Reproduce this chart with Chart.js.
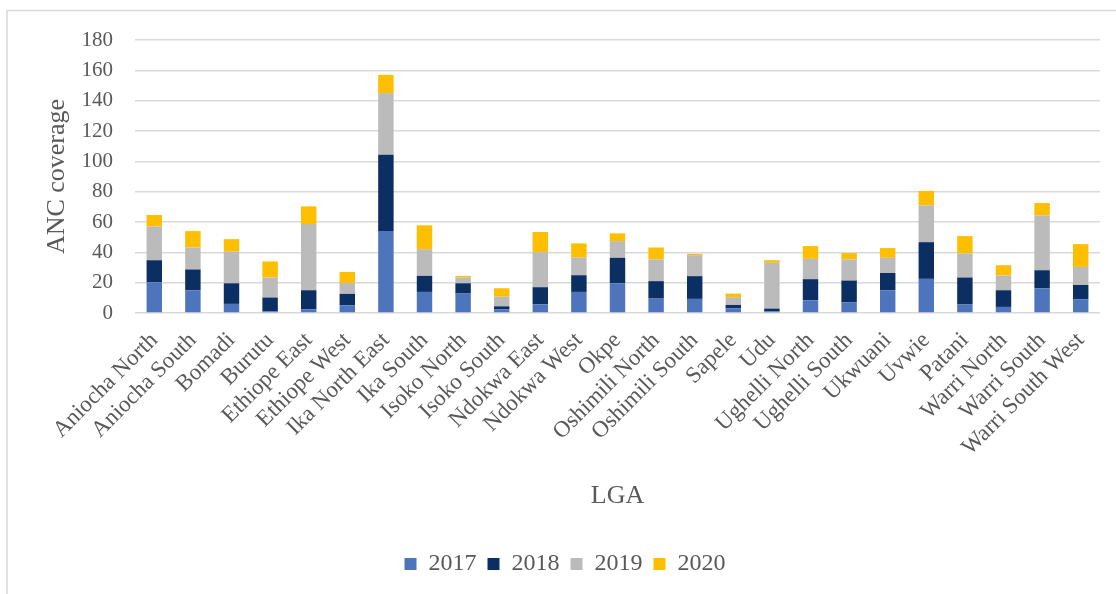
<!DOCTYPE html>
<html>
<head>
<meta charset="utf-8">
<title>ANC coverage by LGA</title>
<script src="https://cdn.jsdelivr.net/npm/chart.js@4/dist/chart.umd.min.js"></script>
<style>
    html, body { margin: 0; padding: 0; background: #fff; }
    #wrap { position: relative; width: 1116px; height: 594px; }
</style>
</head>
<body>
<div id="wrap"><canvas id="anc-chart" width="1116" height="594"></canvas></div>
<script>
var lgaNames = [
    'Aniocha North', 'Aniocha South', 'Bomadi', 'Burutu', 'Ethiope East',
    'Ethiope West', 'Ika North East', 'Ika South', 'Isoko North', 'Isoko South',
    'Ndokwa East', 'Ndokwa West', 'Okpe', 'Oshimili North', 'Oshimili South',
    'Sapele', 'Udu', 'Ughelli North', 'Ughelli South', 'Ukwuani',
    'Uvwie', 'Patani', 'Warri North', 'Warri South', 'Warri South West'
];

var cov2017 = [20.3, 15, 6, 1.1, 2.4, 5.1, 54, 13.9, 12.8, 2.4, 5.7, 13.9, 19.6, 9.5, 9.3, 3.1, 1.1, 8.4, 7.1, 15, 22.5, 5.6, 4, 16.3, 9.1];
var cov2018 = [14.5, 13.7, 13.6, 9.1, 12.6, 7.5, 50.3, 10.6, 6.8, 2, 11.3, 11, 16.8, 11.5, 15, 2.2, 1.8, 13.9, 14.3, 11.4, 24.2, 17.8, 11, 11.9, 9.4];
var cov2019 = [22.3, 14.5, 20.8, 13.2, 43.6, 7.2, 40.7, 17.6, 3.8, 6.4, 23.1, 11.7, 11, 14.3, 13.8, 5.1, 30.2, 13.4, 13.9, 10, 24.3, 15.9, 9.7, 36.2, 11.9];
var cov2020 = [7.5, 10.8, 8.3, 10.6, 11.7, 7.3, 12, 15.7, 1.1, 5.5, 13.3, 9.3, 5.1, 7.9, 0.9, 2.4, 1.7, 8.4, 4.2, 6.4, 9.5, 11.4, 6.8, 8.1, 15];

var yearLabels = ['2017', '2018', '2019', '2020'];
var yTicks = [0, 20, 40, 60, 80, 100, 120, 140, 160, 180];

var serif = "'Liberation Serif', 'Times New Roman', serif";
var textGrey = '#595959';
var lineGrey = '#d9d9d9';

// thin frame round the chart, as in the office export
var framePlugin = {
    id: 'frame',
    beforeDraw: function(chart) {
        var ctx = chart.ctx;
        ctx.save();
        ctx.strokeStyle = lineGrey;
        ctx.lineWidth = 1.5;
        ctx.beginPath();
        ctx.moveTo(7, chart.height);
        ctx.lineTo(7, 10.5);
        ctx.lineTo(chart.width, 10.5);
        ctx.stroke();
        ctx.restore();
    }
};

function makeSet(label, data, colour) {
    return {
        label: label,
        data: data,
        backgroundColor: colour,
        borderWidth: 0,
        barPercentage: 0.4,
        categoryPercentage: 1
    };
}

new Chart(document.getElementById('anc-chart'), {
    type: 'bar',
    data: {
        labels: lgaNames,
        datasets: [
            makeSet(yearLabels[0], cov2017, '#4E74BC'),
            makeSet(yearLabels[1], cov2018, '#0B2F62'),
            makeSet(yearLabels[2], cov2019, '#BBBBBB'),
            makeSet(yearLabels[3], cov2020, '#FDBF00')
        ]
    },
    options: {
        responsive: false,
        animation: false,
        layout: {
            padding: { top: 40, left: 30, right: 16, bottom: 8 }
        },
        plugins: {
            legend: {
                position: 'bottom',
                labels: {
                    boxWidth: 12,
                    boxHeight: 12,
                    padding: 11,
                    color: textGrey,
                    font: { family: serif, size: 24 }
                }
            },
            tooltip: { enabled: false }
        },
        scales: {
            x: {
                stacked: true,
                grid: { display: false, drawTicks: false },
                border: { display: false },
                ticks: {
                    color: textGrey,
                    font: { family: serif, size: 23 },
                    minRotation: 45,
                    maxRotation: 45,
                    autoSkip: false,
                    padding: 14
                },
                title: {
                    display: true,
                    text: 'LGA',
                    color: textGrey,
                    font: { family: serif, size: 26 },
                    padding: { top: 0, bottom: 29 }
                },
                afterFit: function(scale) {
                    scale.height = 228;
                    scale.paddingLeft = 0;
                    scale.paddingRight = 0;
                }
            },
            y: {
                stacked: true,
                min: 0,
                max: 180,
                afterBuildTicks: function(scale) {
                    scale.ticks = yTicks.map(function(v) { return { value: v }; });
                },
                grid: { color: lineGrey, lineWidth: 1.5, drawTicks: false },
                border: { display: false },
                ticks: {
                    color: textGrey,
                    font: { family: serif, size: 21 },
                    padding: 22
                },
                title: {
                    display: true,
                    text: 'ANC coverage',
                    color: textGrey,
                    font: { family: serif, size: 26 },
                    padding: { top: 12, bottom: 0 }
                },
                afterFit: function(scale) {
                    scale.width = 105;
                    scale.paddingTop = 0;
                    scale.paddingBottom = 0;
                }
            }
        }
    },
    plugins: [framePlugin]
});
</script>
</body>
</html>
